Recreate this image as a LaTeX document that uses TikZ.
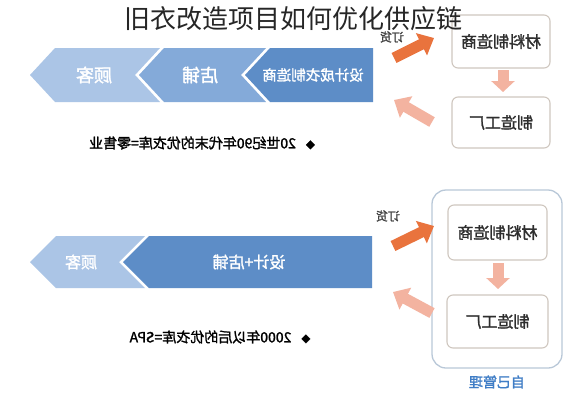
\documentclass[tikz,border=0pt]{standalone}
\usepackage{fontspec}
\usepackage{graphicx}
\setmainfont{Noto Sans CJK SC}
\newfontfamily\cjkbold[FakeBold=1.6]{Noto Sans CJK SC}
\usetikzlibrary{arrows.meta}
\newcommand{\mir}[1]{\scalebox{-1}[1]{#1}}
\newcommand{\fsz}[1]{\fontsize{#1}{#1}\selectfont}
\definecolor{cLight}{HTML}{ABC5E6}
\definecolor{cMid}{HTML}{84AAD9}
\definecolor{cDark}{HTML}{5D8DC7}
\definecolor{cOrange}{HTML}{E9733D}
\definecolor{cPink}{HTML}{F3B3A0}
\definecolor{cBorder}{HTML}{CFC7BF}
\definecolor{cFrame}{HTML}{B9C8D8}
\definecolor{cBlue}{HTML}{3F7DC6}
\definecolor{cText}{HTML}{2E2E2E}
\begin{document}
\begin{tikzpicture}[x=1pt,y=-1pt,
  chevtext/.style={text=white, inner sep=0pt},
  boxnode/.style={draw=cBorder, line width=1.1pt, fill=white, rounded corners=6pt, text=cText, inner sep=0pt, font=\cjkbold\fsz{16}},
  orangearrow/.style={cOrange, line width=11pt, -{Triangle[length=14pt,width=24pt]}},
  pinkarrow/.style={cPink, line width=11pt, -{Triangle[length=14pt,width=24pt]}},
  downarrow/.style={cPink, line width=11pt, -{Triangle[length=11pt,width=23pt]}},
  bullettext/.style={text=black, inner sep=0pt, font=\cjkbold\fsz{14}},
  smalllabel/.style={text=black!75, inner sep=0pt, font=\cjkbold\fsz{12}}
]
\useasboundingbox (0,0) rectangle (584,400);
\fill[white] (0,0) rectangle (584,400);

% ---------- row 1 chevrons ----------
\fill[cLight] (30,75) -- (55,48) -- (160,48) -- (135,75) -- (160,102) -- (55,102) -- cycle;
\fill[cMid] (139,75) -- (164,48) -- (266,48) -- (241,75) -- (266,102) -- (164,102) -- cycle;
\fill[cDark] (245,75) -- (270,48) -- (373,48) -- (373,102) -- (270,102) -- cycle;
\node[chevtext, font=\cjkbold\fsz{18}] (gk1) at (94,75) {\mir{顾客}};
\node[chevtext, font=\cjkbold\fsz{18}] (dp1) at (200,75) {\mir{店铺}};
\node[chevtext, font=\cjkbold\fsz{14.5}] (sj1) at (313,75) {\mir{设计成衣制造商}};

\node[bullettext] (b1) at (202,143) {\mir{{\fsz{9}◆}\hspace{10pt}20世纪90年代末的优衣库=零售业}};

% row 1 right side
\node[boxnode, minimum width=98pt, minimum height=53pt] (cl1) at (501,41.5) {\mir{材料制造商}};
\node[boxnode, minimum width=98pt, minimum height=51pt] (zz1) at (501,122.5) {\mir{制造工厂}};
\coordinate (d1s) at (503,70);
\coordinate (d1e) at (503,92);
\draw[downarrow] (d1s) -- (d1e);
\coordinate (o1s) at (394,58);
\coordinate (o1e) at (434,38);
\draw[orangearrow] (o1s) -- (o1e);
\coordinate (p1s) at (432,122);
\coordinate (p1e) at (394,100);
\draw[pinkarrow] (p1s) -- (p1e);
\node[smalllabel] (dh1) at (392,37) {\mir{订货}};

% ---------- row 2 chevrons ----------
\fill[cLight] (30,262) -- (56,236) -- (145,236) -- (119,262) -- (145,288) -- (56,288) -- cycle;
\fill[cDark] (123,262) -- (149,236) -- (372,236) -- (372,288) -- (149,288) -- cycle;
\node[chevtext, font=\cjkbold\fsz{16}] (gk2) at (81,262) {\mir{顾客}};
\node[chevtext, font=\cjkbold\fsz{16}] (sj2) at (249,262) {\mir{设计+店铺}};

\node[bullettext] (b2) at (220,337) {\mir{{\fsz{9}◆}\hspace{10pt}2000年以后的优衣库=SPA}};

% row 2 right side
\node[draw=cFrame, line width=1.3pt, rounded corners=14pt, minimum width=130pt, minimum height=178pt, inner sep=0pt] (frame) at (497,279) {};
\node[boxnode, minimum width=99pt, minimum height=55pt] (cl2) at (497.5,232.5) {\mir{材料制造商}};
\node[boxnode, minimum width=101pt, minimum height=53pt] (zz2) at (497.5,321.5) {\mir{制造工厂}};
\node[inner sep=0pt, text=cBlue, font=\cjkbold\fsz{14}] (zj) at (497,382) {\mir{自己管理}};
\coordinate (d2s) at (498,263);
\coordinate (d2e) at (498,289);
\draw[downarrow] (d2s) -- (d2e);
\coordinate (o2s) at (393,246);
\coordinate (o2e) at (434,226);
\draw[orangearrow] (o2s) -- (o2e);
\coordinate (p2s) at (432,313);
\coordinate (p2e) at (393,292);
\draw[pinkarrow] (p2s) -- (p2e);
\node[smalllabel] (dh2) at (388,216) {\mir{订货}};

% title (drawn last, over the box)
\node[inner sep=0pt, text=black!85, font=\fsz{26}] (title) at (293,19) {旧衣改造项目如何优化供应链};
\end{tikzpicture}
\end{document}
